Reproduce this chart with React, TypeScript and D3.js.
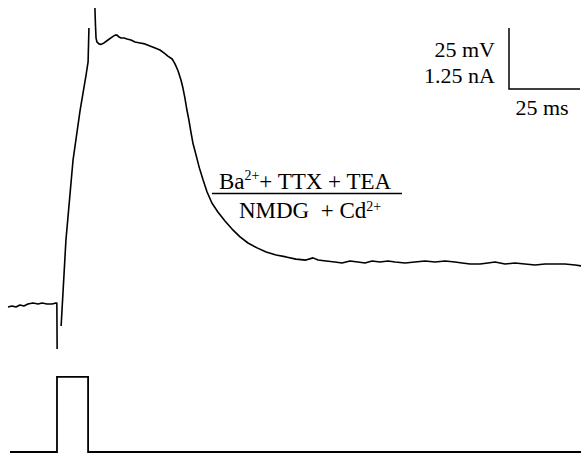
import React from "react";
import { scaleLinear, line } from "d3";

const width = 581;
const height = 453;

// voltage trace, time in ms, membrane potential in mV (NaN = gap in the pen trace)
const timeMs = [
  0, 1.4, 2.8, 4.2, 5.6, 7.0, 8.8, 10.6, 12.0, 13.7, 15.5, 16.9, 17.2, 17.3, 17.4, 18.7,
  20.4, 22.9, 25.4, 27.5, 28.2, 28.5, 28.9, 30.6, 30.8, 31.0, 31.3, 32.0, 32.8, 33.8, 35.2,
  36.6, 37.7, 38.4, 39.1, 39.8, 40.9, 41.9, 43.3, 44.7, 46.5, 48.2, 50.0, 51.8, 53.5, 54.9,
  56.3, 57.8, 58.8, 59.9, 60.9, 61.6, 62.3, 63.0, 63.7, 64.4, 65.1, 66.2, 67.3, 68.7, 70.1,
  71.8, 73.9, 76.4, 78.9, 81.7, 84.5, 87.7, 90.9, 94.4, 97.9, 101.4, 104.9, 107.4, 109.2,
  112.0, 115.1, 117.6, 120.4, 123.2, 125.7, 128.2, 131.0, 133.8, 136.3, 139.8, 143.3, 146.8,
  150.4, 153.9, 157.4, 159.9, 162.7, 166.2, 169.0, 171.5, 175.0, 178.5, 182.0, 185.6, 189.1,
  192.6, 196.1, 199.7, 201.8,
];
const voltageMv = [
  -71.2, -70.8, -71.2, -70.4, -70.8, -70.0, -69.6, -70.0, -69.6, -70.0, -70.0, -69.6, -69.6,
  -88.4, NaN, -79.0, -43.8, -11.0, 9.5, 23.9, 29.2, 43.1, NaN, 51.3, 44.3, 39.0, 37.4,
  36.6, 36.4, 37.0, 38.2, 39.4, 40.2, 40.2, 39.4, 39.0, 39.0, 38.6, 38.2, 37.4, 37.0, 36.6,
  35.7, 34.9, 34.1, 32.9, 31.6, 30.4, 28.4, 25.5, 21.8, 18.5, 14.4, 9.5, 5.4, 0.5, -4.0, -8.9,
  -13.9, -19.2, -24.1, -28.6, -32.3, -36.0, -39.3, -42.5, -45.0, -47.0, -48.7, -49.9, -50.7,
  -51.6, -52.0, -51.1, -52.0, -52.4, -52.8, -53.2, -52.4, -52.8, -53.2, -52.4, -52.8, -52.4,
  -52.8, -53.2, -52.8, -52.4, -52.8, -52.4, -52.8, -53.2, -53.6, -53.6, -53.2, -52.8, -53.6,
  -53.2, -53.6, -54.0, -53.6, -53.6, -53.6, -54.0, -54.4,
];

// injected current, nA
const pulseTimeMs = [0.7, 17.25, 17.25, 28.2, 28.2, 201.8];
const currentNa = [0, 0, 1.54, 1.54, 0, 0];

// scale bars
const barMv = 25;
const barMs = 25;
const barLabels = { mv: "25 mV", na: "1.25 nA", ms: "25 ms" };

const font = "'Liberation Serif', 'Times New Roman', serif";

export default function App() {
  const x = scaleLinear().domain([0, 25]).range([8, 79]);
  const yV = scaleLinear().domain([-70, -45]).range([304, 243]);
  const yI = scaleLinear().domain([0, 1.25]).range([452, 391]);

  const vData = timeMs.map((t, i) => ({ t, v: voltageMv[i] }));
  const iData = pulseTimeMs.map((t, i) => ({ t, v: currentNa[i] }));

  const vLine = line<{ t: number; v: number }>()
    .defined((d) => !isNaN(d.v))
    .x((d) => x(d.t))
    .y((d) => yV(d.v));
  const iLine = line<{ t: number; v: number }>()
    .x((d) => x(d.t))
    .y((d) => yI(d.v));

  // scale bar geometry from the scales
  const bx = 509;
  const by = 28;
  const barH = yV(-70) - yV(-70 + barMv);
  const barW = x(barMs) - x(0);

  return (
    <svg
      width={width}
      height={height}
      style={{ position: "fixed", top: 0, left: 0, background: "#fff" }}
      fontFamily={font}
    >
      <path
        d={vLine(vData) || ""}
        fill="none"
        stroke="#000"
        strokeWidth={1.6}
        strokeLinejoin="round"
      />
      <path d={iLine(iData) || ""} fill="none" stroke="#000" strokeWidth={1.8} />

      {/* scale bar */}
      <path
        d={`M${bx},${by}V${by + barH}H${bx + barW}`}
        fill="none"
        stroke="#000"
        strokeWidth={1.5}
      />
      <text x={bx - 14} y={57} fontSize={22} textAnchor="end">
        {barLabels.mv}
      </text>
      <text x={bx - 14} y={83} fontSize={22} textAnchor="end">
        {barLabels.na}
      </text>
      <text x={542} y={115} fontSize={22} textAnchor="middle">
        {barLabels.ms}
      </text>

      {/* solution label */}
      <g fontSize={23} textAnchor="middle">
        <text x={305} y={189}>
          Ba
          <tspan fontSize={14} dy={-9}>
            2+
          </tspan>
          <tspan dy={9}>+ TTX + TEA</tspan>
        </text>
        <line x1={212} x2={402} y1={193.5} y2={193.5} stroke="#000" strokeWidth={1.5} />
        <text x={310} y={218} xmlSpace="preserve">
          {"NMDG  + Cd"}
          <tspan fontSize={14} dy={-7}>
            2+
          </tspan>
        </text>
      </g>
    </svg>
  );
}
